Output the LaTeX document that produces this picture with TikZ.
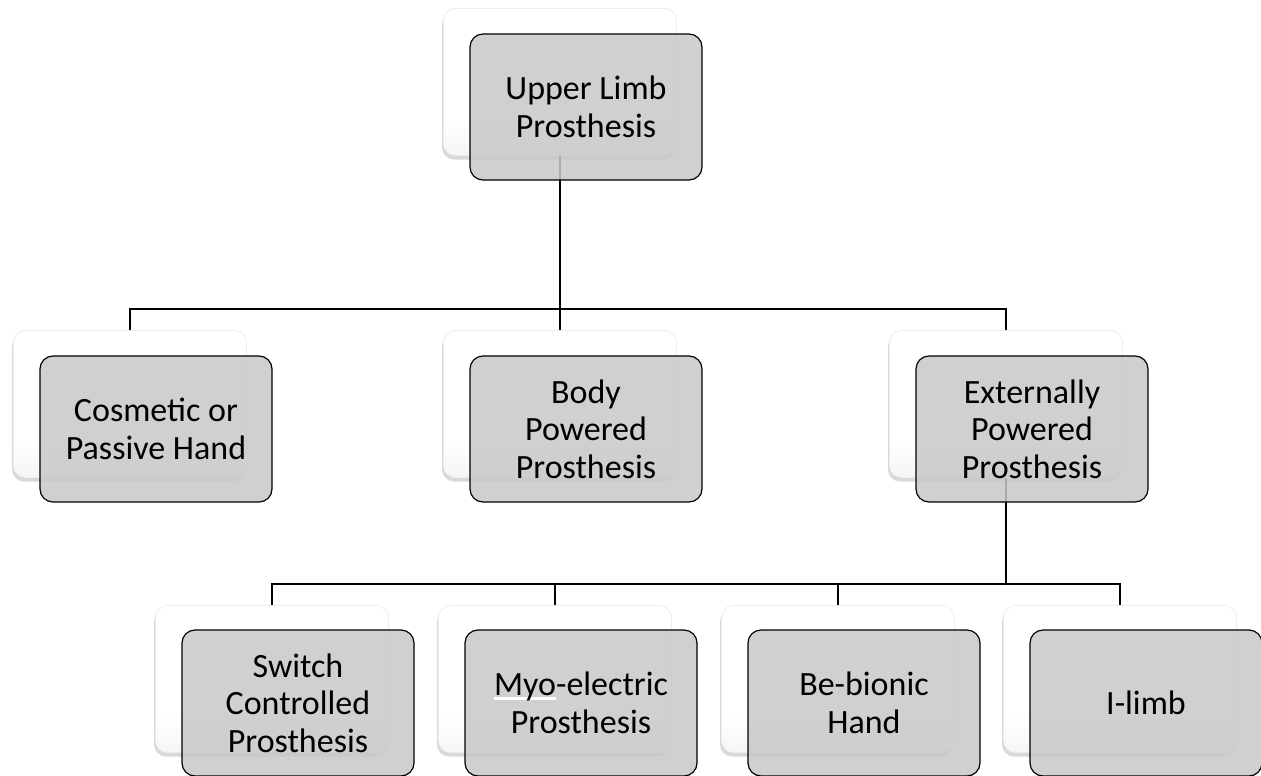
\documentclass[tikz,border=0pt]{standalone}
\usepackage{fontspec}
\setmainfont{Carlito}
\usepackage{xcolor}
\usetikzlibrary{shadows,backgrounds}

\definecolor{boxgray}{RGB}{200,200,200}
\colorlet{backlow}{black!11}
\pgfdeclareverticalshading{backshade}{100bp}{color(0bp)=(backlow); color(38bp)=(white); color(100bp)=(white)}

\begin{document}
\begin{tikzpicture}[x=1pt,y=-1pt,link/.style={draw=black, line width=2.2pt}]
        \tikzstyle{back} = [rounded corners=12pt, minimum width=233pt, minimum height=147pt, inner sep=0pt, draw=black!7, line width=.8pt, shading=backshade, drop shadow={shadow xshift=-1.5pt, shadow yshift=-4pt, opacity=.3}]
        \tikzstyle{front} = [rounded corners=13pt, minimum width=232pt, minimum height=146pt, inner sep=0pt, draw=black, line width=1.2pt, fill=boxgray, fill opacity=.85, text opacity=1, align=center, font=\fontsize{34pt}{37.5pt}\selectfont]
        \useasboundingbox (0,0) rectangle (1261,776);

        \node[back] (up) at (560,82) {};
        \node[front] (upf) at (586,107) {Upper Limb\\Prosthesis};

        \node[back] (cos) at (130,404) {};
        \node[front] (cosf) at (156,429) {Cosmetic or\\Passive Hand};
        \node[back] (body) at (560,404) {};
        \node[front] (bodyf) at (586,429) {Body\\Powered\\Prosthesis};
        \node[back] (ext) at (1006,404) {};
        \node[front] (extf) at (1032,429) {Externally\\Powered\\Prosthesis};

        \node[back] (sw) at (272,679) {};
        \node[front] (swf) at (298,703) {Switch\\Controlled\\Prosthesis};
        \node[back] (myo) at (555,679) {};
        \node[front] (myof) at (581,703) {\rlap{\color{white}\rule[-4pt]{62pt}{2.5pt}}Myo-electric\\Prosthesis};
        \node[back] (bb) at (838,679) {};
        \node[front] (bbf) at (864,703) {Be-bionic\\Hand};
        \node[back] (il) at (1120,679) {};
        \node[front] (ilf) at (1146,703) {I-limb};

        \coordinate (j1) at (560,309);
        \coordinate (j2) at (1006,584);

        \begin{pgfonlayer}{background}
        \draw[link] (up) -- (j1);
        \draw[link] (cos) |- (j1);
        \draw[link] (body) -- (j1);
        \draw[link] (ext) |- (j1);
        \draw[link] (ext) -- (j2);
        \draw[link] (sw) |- (j2);
        \draw[link] (myo) |- (j2);
        \draw[link] (bb) |- (j2);
        \draw[link] (il) |- (j2);
        \end{pgfonlayer}
\end{tikzpicture}
\end{document}
